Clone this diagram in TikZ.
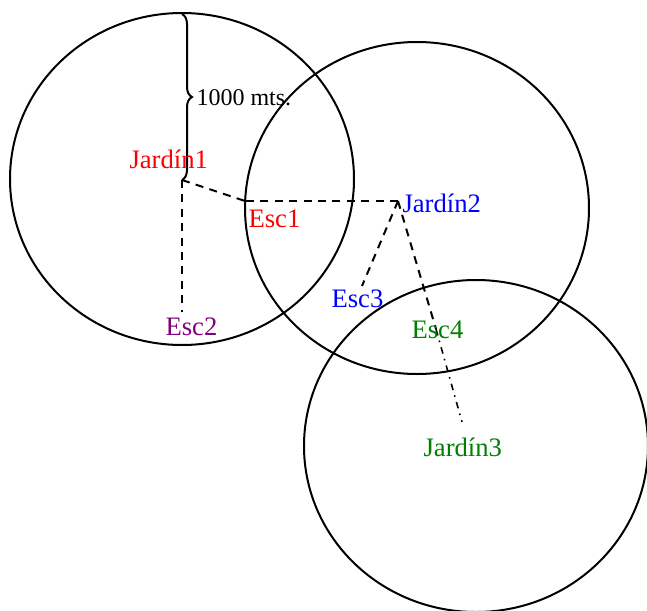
\documentclass[tikz,border=0pt]{standalone}
\usepackage{fontspec}
\setmainfont{Liberation Serif}
\usetikzlibrary{decorations.pathreplacing}
\definecolor{cRed}{RGB}{255,0,0}
\definecolor{cBlue}{RGB}{0,0,255}
\definecolor{cGreen}{RGB}{0,128,0}
\definecolor{cPurple}{RGB}{128,0,128}
\tikzset{
  area/.style={draw=black,line width=0.75pt},
  link/.style={draw=black,line width=0.75pt,dash pattern=on 3pt off 2.4pt},
  linkdd/.style={draw=black,line width=0.6pt,dash pattern=on 2.5pt off 2pt on 0.6pt off 2pt},
  lbl/.style={inner sep=0pt,anchor=base west,font=\fontsize{10}{12}\selectfont}
}
\begin{document}
\begin{tikzpicture}[x=0.375pt,y=-0.375pt]
\useasboundingbox (0,0) rectangle (647,611);
% centres of the areas
\coordinate (c1) at (182,179);
\coordinate (c2) at (417,208);
\coordinate (c3) at (476,446);
\draw[area] (c1) ellipse [x radius=64.5pt, y radius=62.25pt];
\draw[area] (c2) ellipse [x radius=64.5pt, y radius=62.25pt];
\draw[area] (c3) ellipse [x radius=64.5pt, y radius=62.25pt];
% points
\coordinate (j1) at (182,180);
\coordinate (j2) at (398,201);
\coordinate (j3) at (462,422);
\coordinate (e1) at (245,201);
\coordinate (e2) at (182,312);
\coordinate (e3) at (362,286);
\coordinate (e4) at (436,329);
\coordinate (top) at (182,14);
% brace
\draw[line width=0.75pt,decorate,decoration={brace,amplitude=3.75pt}] (top) -- (j1);
% links
\draw[link] (j1) -- (e1);
\draw[link] (j2) -- (e1);
\draw[link] (j1) -- (e2);
\draw[link] (j2) -- (e3);
\draw[link] (j2) -- (e4);
\draw[linkdd] (e4) -- (j3);
% labels
\node[lbl,font=\fontsize{9}{11}\selectfont] (tdist) at (196,105) {1000 mts.};
\node[lbl,text=cRed] (tj1) at (129,168) {Jardín1};
\node[lbl,text=cRed] (te1) at (248,227) {Esc1};
\node[lbl,text=cBlue] (tj2) at (402,212) {Jardín2};
\node[lbl,text=cBlue] (te3) at (331,307) {Esc3};
\node[lbl,text=cPurple] (te2) at (165,335) {Esc2};
\node[lbl,text=cGreen] (te4) at (411,338) {Esc4};
\node[lbl,text=cGreen] (tj3) at (423,456) {Jardín3};
\end{tikzpicture}
\end{document}
